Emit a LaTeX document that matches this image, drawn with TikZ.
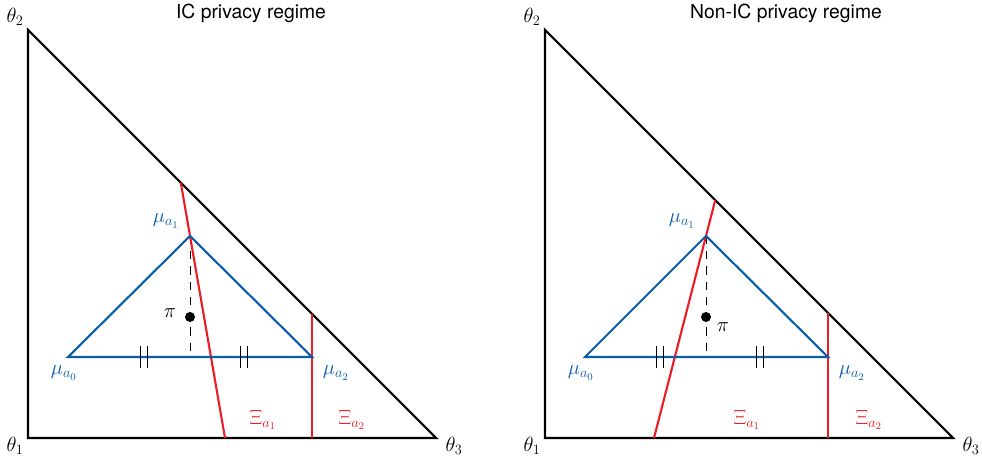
\RequirePackage{fix-cm}
\documentclass[tikz,border=0pt]{standalone}
\usepackage{fontspec}
\setsansfont{TeX Gyre Heros}
\usetikzlibrary{calc}
\definecolor{mBlue}{HTML}{0B5DAA}
\definecolor{mRed}{HTML}{EC1C24}
\tikzset{
  simplex/.style={line width=1.8pt, black},
  belief/.style={line width=1.8pt, mBlue},
  region/.style={line width=1.8pt, mRed},
  hashmark/.style={line width=0.8pt, black},
  drop/.style={line width=0.8pt, black, dash pattern=on 7pt off 6pt},
  lbl/.style={inner sep=1pt},
  headline/.style={inner sep=1pt, font=\sffamily\fontsize{16.5}{19}\selectfont},
}
\begin{document}
\begin{tikzpicture}[x=0.03cm, y=0.03cm, font=\fontsize{17.5}{20}\selectfont]
  \useasboundingbox (0,0) rectangle (982,461);
  % left panel
  \begin{scope}[shift={(28,23)}]
    \coordinate (T1) at (0,0);
    \coordinate (T2) at (0,408);
    \coordinate (T3) at (408,0);
    \coordinate (M0) at (40,81);
    \coordinate (M1) at (162,202);
    \coordinate (M2) at (284,81);
    \coordinate (F) at (162,81);
    \coordinate (RAtop) at (152.8,255.2);
    \coordinate (RAbot) at (197,0);
    \coordinate (RBtop) at (284,124);
    \coordinate (RBbot) at (284,0);
    \draw[simplex] (T1) -- (T2) -- (T3) -- cycle;
    \draw[drop] (M1) -- (F);
    \draw[region] (RAtop) -- (RAbot);
    \draw[region] (RBtop) -- (RBbot);
    \draw[belief] (M0) -- (M1) -- (M2) -- cycle;
    \foreach \t in {116, 216} {
      \draw[hashmark] (\t-3.5,70) -- (\t-3.5,92);
      \draw[hashmark] (\t+3.5,70) -- (\t+3.5,92);
    }
    \fill (162,121) circle (5) coordinate (P);
    \node[lbl] (pi) at ($(P)+(-20,4)$) {$\pi$};
    \node[lbl, mBlue] (mu0) at ($(M0)+(-4,-16)$) {$\mu_{a_0}$};
    \node[lbl, mBlue] (mu1) at ($(M1)+(-24,15)$) {$\mu_{a_1}$};
    \node[lbl, mBlue] (mu2) at ($(M2)+(24,-16)$) {$\mu_{a_2}$};
    \node[lbl, mRed] (xi1) at (235,18) {$\Xi_{a_1}$};
    \node[lbl, mRed] (xi2) at (324,18) {$\Xi_{a_2}$};
    \node[lbl] (th1) at ($(T1)+(-13,-8)$) {$\theta_1$};
    \node[lbl] (th2) at ($(T2)+(-13,13)$) {$\theta_2$};
    \node[lbl] (th3) at ($(T3)+(18,-8)$) {$\theta_3$};
    \node[headline] (title) at (223,425) {IC privacy regime};
  \end{scope}
  % right panel
  \begin{scope}[shift={(545,23)}]
    \coordinate (S1) at (0,0);
    \coordinate (S2) at (0,408);
    \coordinate (S3) at (408,0);
    \coordinate (N0) at (40,81);
    \coordinate (N1) at (161,202);
    \coordinate (N2) at (283,81);
    \coordinate (G) at (161,81);
    \coordinate (QAtop) at (170.2,237.7);
    \coordinate (QAbot) at (109,0);
    \coordinate (QBtop) at (283,125);
    \coordinate (QBbot) at (283,0);
    \draw[simplex] (S1) -- (S2) -- (S3) -- cycle;
    \draw[drop] (N1) -- (G);
    \draw[region] (QAtop) -- (QAbot);
    \draw[region] (QBtop) -- (QBbot);
    \draw[belief] (N0) -- (N1) -- (N2) -- cycle;
    \foreach \t in {115, 215} {
      \draw[hashmark] (\t-3.5,70) -- (\t-3.5,92);
      \draw[hashmark] (\t+3.5,70) -- (\t+3.5,92);
    }
    \fill (161,121) circle (5) coordinate (Q);
    \node[lbl] (rpi) at ($(Q)+(17,-10)$) {$\pi$};
    \node[lbl, mBlue] (rmu0) at ($(N0)+(-4,-16)$) {$\mu_{a_0}$};
    \node[lbl, mBlue] (rmu1) at ($(N1)+(-24,15)$) {$\mu_{a_1}$};
    \node[lbl, mBlue] (rmu2) at ($(N2)+(24,-16)$) {$\mu_{a_2}$};
    \node[lbl, mRed] (rxi1) at (202,18) {$\Xi_{a_1}$};
    \node[lbl, mRed] (rxi2) at (324,18) {$\Xi_{a_2}$};
    \node[lbl] (rth1) at ($(S1)+(-13,-8)$) {$\theta_1$};
    \node[lbl] (rth2) at ($(S2)+(-13,13)$) {$\theta_2$};
    \node[lbl] (rth3) at ($(S3)+(18,-8)$) {$\theta_3$};
    \node[headline] (rtitle) at (241,425) {Non-IC privacy regime};
  \end{scope}
\end{tikzpicture}
\end{document}
